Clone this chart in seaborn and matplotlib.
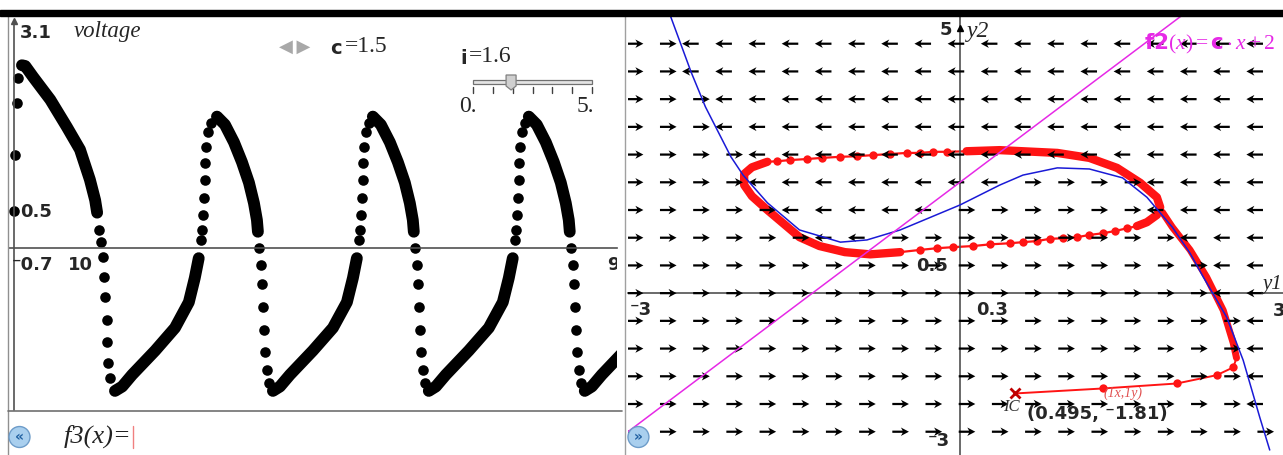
import numpy as np
import matplotlib
matplotlib.use("Agg")
import matplotlib.pyplot as plt
from matplotlib.patches import Rectangle, Polygon
import seaborn as sns

sns.set_style("white")
plt.rcParams['font.family'] = ['DejaVu Sans']
plt.rcParams['mathtext.fontset'] = 'custom'
plt.rcParams['mathtext.rm'] = 'Liberation Serif'
plt.rcParams['mathtext.it'] = 'Liberation Serif:italic'
plt.rcParams['mathtext.bf'] = 'DejaVu Sans:bold'

W, H = 1283, 455

# ---------------- values ----------------
c_value = 1.5
i_value = 1.6
i_min, i_max = 0, 5
xscl, yscl = 0.3, 0.5          # phase plane grid scales

# left graph : voltage (time, volt) - first pulse
start_t = [0.0, 0.15, 0.45, 0.61]
start_v = [0.50, 1.27, 1.98, 2.32]
first_fall_t = [1.2, 1.7, 2.9, 5.5, 8.0, 10.0, 11.5, 12.3, 12.6]
first_fall_v = [2.49, 2.48, 2.33, 2.02, 1.65, 1.34, 0.93, 0.65, 0.48]
first_drop_t = [12.9, 13.2, 13.5, 13.6, 13.8, 14.1, 14.1, 14.2, 14.5]
first_drop_v = [0.25, 0.08, -0.12, -0.40, -0.67, -0.98, -1.28, -1.57, -1.77]
first_rise_t = [15.3, 16.4, 17.9, 21.4, 24.4, 26.5, 27.4, 28.0]
first_rise_v = [-1.95, -1.89, -1.73, -1.40, -1.09, -0.74, -0.41, -0.14]
first_climb_t = [28.3, 28.5, 28.6, 28.8, 28.9, 28.9, 29.1, 29.4, 29.9]
first_climb_v = [0.11, 0.25, 0.45, 0.68, 0.93, 1.16, 1.38, 1.58, 1.70]

# one period (time after each peak), same for every later pulse
fall_dt = [0.0, 1.21, 2.58, 3.79, 4.85, 5.61, 6.06, 6.21]
fall_v = [1.79, 1.68, 1.44, 1.17, 0.89, 0.61, 0.38, 0.22]
drop_dt = [6.36, 6.67, 6.82, 6.97, 7.12, 7.27, 7.58, 7.88]
drop_v = [0.0, -0.23, -0.49, -0.80, -1.12, -1.42, -1.66, -1.84]
rise_dt = [8.48, 9.55, 11.06, 14.55, 17.58, 19.70, 20.61, 21.21]
rise_v = [-1.95, -1.89, -1.73, -1.40, -1.09, -0.74, -0.41, -0.14]
climb_dt = [21.52, 21.67, 21.82, 21.97, 22.12, 22.12, 22.27, 22.58, 23.03]
climb_v = [0.11, 0.25, 0.45, 0.68, 0.93, 1.16, 1.38, 1.58, 1.70]
peak_t = [30.76, 54.39, 78.03]

# right graph : phase plane (y1, y2)
blue_y1 = [-2.62, -2.43, -2.30, -2.07, -1.96, -1.74, -1.45, -1.08, -0.84, -0.54,
           0.0, 0.36, 0.57, 0.88, 1.17, 1.47, 1.69, 1.92, 2.08, 2.20, 2.41, 2.56, 2.71, 2.80]
blue_y2 = [5.02, 3.99, 3.36, 2.46, 2.13, 1.63, 1.14, 0.92, 0.96, 1.14,
           1.59, 1.95, 2.13, 2.26, 2.24, 2.08, 1.73, 1.19, 0.72, 0.29, -0.43, -1.21, -2.24, -2.83]
line_y1 = [-3.0, 2.0]           # f2(x)=c*x+2
line_y2 = [-2.5, 5.0]

cyc_right_y1 = [1.60, 1.69, 1.78, 1.81, 1.78, 1.63, 1.42, 1.17, 0.88, 0.57, 0.36, 0.06]
cyc_right_y2 = [1.21, 1.28, 1.41, 1.55, 1.73, 1.99, 2.26, 2.44, 2.53, 2.56, 2.58, 2.56]
cyc_top_y1 = [-0.12, -0.24, -0.36, -0.48, -0.63, -0.79, -0.93, -1.08, -1.25, -1.38, -1.54, -1.65]
cyc_top_y2 = [2.55, 2.55, 2.53, 2.53, 2.51, 2.49, 2.47, 2.46, 2.44, 2.42, 2.40, 2.38]
cyc_left_y1 = [-1.74, -1.88, -1.95, -1.95, -1.88, -1.74, -1.58, -1.45, -1.27, -1.04, -0.81, -0.54]
cyc_left_y2 = [2.37, 2.27, 2.15, 1.95, 1.75, 1.50, 1.23, 1.01, 0.85, 0.74, 0.70, 0.74]
cyc_bot_y1 = [-0.36, -0.21, -0.06, 0.12, 0.27, 0.45, 0.57, 0.70, 0.81, 0.93, 1.06, 1.17, 1.29, 1.40, 1.51]
cyc_bot_y2 = [0.78, 0.81, 0.83, 0.85, 0.88, 0.90, 0.92, 0.94, 0.98, 0.99, 1.01, 1.05, 1.08, 1.12, 1.17]

ic = (0.495, -1.81)
init_dot_y1 = [1.29, 1.96, 2.32, 2.47]
init_dot_y2 = [-1.72, -1.63, -1.48, -1.34]
init_band_y1 = [2.50, 2.47, 2.38, 2.23, 2.08, 1.92, 1.83]
init_band_y2 = [-1.17, -0.90, -0.31, 0.29, 0.78, 1.19, 1.46]

RED = '#ff1414'
BLUE = '#1a1ad6'
MAGENTA = '#e629e6'
AXC = '#505050'

fig = plt.figure(figsize=(W / 100, H / 100), dpi=100)
fig.patch.set_facecolor('white')


def fx(x):
    return x / W


def fy(y):
    return 1 - y / H


def ftext(x, y, s, **kw):
    kw.setdefault('va', 'center')
    return fig.text(fx(x), fy(y), s, **kw)


def fline(xs, ys, **kw):
    fig.add_artist(plt.Line2D([fx(v) for v in xs], [fy(v) for v in ys],
                              transform=fig.transFigure, **kw))


def band(ax, x, y, color, lw):
    sns.lineplot(x=x, y=y, ax=ax, sort=False, estimator=None, color=color, lw=lw,
                 solid_capstyle='round', solid_joinstyle='round', zorder=2)


def dots(ax, x, y, color, s):
    sns.scatterplot(x=x, y=y, ax=ax, color=color, s=s, linewidth=0, zorder=2)


def crossing_axes(ax):
    for side in ['top', 'right']:
        ax.spines[side].set_visible(False)
    for side in ['left', 'bottom']:
        ax.spines[side].set_position(('data', 0))
        ax.spines[side].set_color(AXC)
        ax.spines[side].set_linewidth(1.2)
    ax.tick_params(direction='inout', length=7, width=1, color=AXC,
                   labelbottom=False, labelleft=False)
    ax.set_facecolor('none')


# ---------------- left graph ----------------
ax_l = fig.add_axes([fx(9.4), fy(410), fx(617) - fx(9.4), fy(20.5) - fy(410)])
ax_l.set_xlim(-0.7, 91.4)
ax_l.set_ylim(-2.21, 3.1)
crossing_axes(ax_l)
ax_l.set_xticks(np.arange(10, 91, 10))
ax_l.set_yticks([v for v in np.arange(-2, 3.01, 0.5) if v != 0])

dots(ax_l, start_t, start_v, 'black', 58)
band(ax_l, first_fall_t, first_fall_v, 'black', 8.5)
dots(ax_l, first_drop_t, first_drop_v, 'black', 58)
band(ax_l, first_rise_t, first_rise_v, 'black', 8.5)
dots(ax_l, first_climb_t, first_climb_v, 'black', 58)
for p in peak_t:
    band(ax_l, [p + d for d in fall_dt], fall_v, 'black', 8.5)
    dots(ax_l, [p + d for d in drop_dt], drop_v, 'black', 58)
    band(ax_l, [p + d for d in rise_dt], rise_v, 'black', 8.5)
    dots(ax_l, [p + d for d in climb_dt], climb_v, 'black', 58)
ax_l.plot([0], [3.1], marker='^', color=AXC, ms=5, clip_on=False)
ax_l.text(89.9, -0.24, '99', fontsize=13, fontweight='bold', va='center', clip_on=True)

# ---------------- right graph ----------------
ax_r = fig.add_axes([fx(628), 0, fx(1283) - fx(628), fy(16)])
ax_r.set_xlim(-3, 2.92)
ax_r.set_ylim(-2.92, 5)
crossing_axes(ax_r)
ax_r.set_xticks([k * xscl for k in range(-9, 10) if k != 0])
ax_r.set_yticks([k * yscl for k in range(-5, 10) if k != 0])
ax_r.tick_params(length=6)

# direction field (left above the blue curve, right below it)
G1, G2 = np.meshgrid(np.arange(-10, 10) * xscl, np.arange(-5, 10) * yscl)
way = np.where(G2 > np.interp(G1, blue_y1, blue_y2), -1.0, 1.0)
ax_r.quiver(G1 + 0.014 + 0.05 * way, G2, 0.15 * way, 0 * way, angles='xy',
            scale_units='xy', scale=1, pivot='mid', color='black', width=0.0034,
            headwidth=3.8, headlength=3.6, headaxislength=2.8, zorder=3)

loop_y1 = cyc_right_y1 + cyc_top_y1 + cyc_left_y1 + cyc_bot_y1 + cyc_right_y1[:1]
loop_y2 = cyc_right_y2 + cyc_top_y2 + cyc_left_y2 + cyc_bot_y2 + cyc_right_y2[:1]
band(ax_r, loop_y1, loop_y2, RED, 1.6)
band(ax_r, cyc_right_y1, cyc_right_y2, RED, 6)
band(ax_r, cyc_left_y1, cyc_left_y2, RED, 6)
dots(ax_r, cyc_top_y1, cyc_top_y2, RED, 36)
dots(ax_r, cyc_bot_y1, cyc_bot_y2, RED, 36)
band(ax_r, [ic[0]] + init_dot_y1 + init_band_y1, [ic[1]] + init_dot_y2 + init_band_y2, RED, 1.4)
dots(ax_r, init_dot_y1, init_dot_y2, RED, 36)
band(ax_r, init_band_y1, init_band_y2, RED, 5)
ax_r.plot([ic[0]], [ic[1]], marker='x', color='#c00000', ms=7, mew=2, zorder=5)

sns.lineplot(x=blue_y1, y=blue_y2, ax=ax_r, sort=False, estimator=None,
             color=BLUE, lw=1.1, zorder=4)
sns.lineplot(x=line_y1, y=line_y2, ax=ax_r, sort=False, estimator=None,
             color=MAGENTA, lw=1.1, zorder=4)
ax_r.plot([0], [4.78], marker='^', color='black', ms=5, clip_on=False, zorder=5)

# ---------------- frame ----------------
fig.add_artist(Rectangle((0, fy(16)), 1, 6 / H, transform=fig.transFigure,
                         color='black', zorder=10))
fline([8, 8], [16, 455], color='#909090', lw=1)
fline([8, 622], [411, 411], color='#707070', lw=1.2)
fline([625, 625], [16, 455], color='#a0a0a0', lw=1)

# ---------------- texts, left ----------------
ftext(20, 33, '3.1', fontsize=13, fontweight='bold')
ftext(74, 32, 'voltage', fontsize=16.5, family='Liberation Serif', style='italic')
ftext(279, 47, '\u25c0\u2009\u25b6', fontsize=13, color='#a8a8a8')
ftext(330, 48, 'c', fontsize=14, fontweight='bold')
ftext(345, 47, '=%.1f' % c_value, fontsize=17, family='Liberation Serif')
ftext(460, 58, 'i', fontsize=14, fontweight='bold')
ftext(469, 57, '=%.1f' % i_value, fontsize=17, family='Liberation Serif')

# slider
fig.add_artist(Rectangle((fx(473), fy(84)), fx(592) - fx(473), 4 / H,
                         transform=fig.transFigure, fc='#e4e4e4', ec='#707070', lw=0.9))
for k in range(7):
    xt = 473 + k * (592 - 473) / 6
    fline([xt, xt], [87, 93], color='#404040', lw=1)
thumb = 473 + (i_value - i_min) / (i_max - i_min) * (592 - 473)
fig.add_artist(Polygon([(fx(thumb - 5), fy(75)), (fx(thumb + 5), fy(75)), (fx(thumb + 5), fy(86)),
                        (fx(thumb), fy(90)), (fx(thumb - 5), fy(86))], closed=True,
                       transform=fig.transFigure, fc='#cfcfcf', ec='#808080', lw=0.9, zorder=5))
ftext(459, 107, '%d.' % i_min, fontsize=17, family='Liberation Serif')
ftext(577, 107, '%d.' % i_max, fontsize=17, family='Liberation Serif')

ftext(20, 212, '0.5', fontsize=13, fontweight='bold')
ftext(12, 265, '\u207b0.7', fontsize=13, fontweight='bold')
ftext(68, 265, '10', fontsize=13, fontweight='bold')

ftext(15, 437, '\u00ab', fontsize=10, color='#1f5fa0', fontweight='bold',
      bbox=dict(boxstyle='circle,pad=0.25', fc='#a9cfee', ec='#6d9cc9', lw=1))
ftext(64, 436, 'f3(x)=', fontsize=19, family='Liberation Serif', style='italic', color='#222222')
fline([133, 133], [426, 448], color='#f08080', lw=1)

# ---------------- texts, right ----------------
ftext(940, 30, '5', fontsize=13, fontweight='bold')
ftext(967, 31, 'y2', fontsize=17, family='Liberation Serif', style='italic')
ftext(1144, 44, r'$\mathbf{f2}(x)=\mathbf{c}\cdot x+2$', fontsize=15.5, color=MAGENTA)
ftext(916, 266, '0.5', fontsize=13, fontweight='bold')
ftext(630, 310, '\u207b3', fontsize=13, fontweight='bold')
ftext(976, 310, '0.3', fontsize=13, fontweight='bold')
ftext(1273, 311, '3', fontsize=13, fontweight='bold')
ftext(1263, 284, 'y1', fontsize=15, family='Liberation Serif', style='italic')
ftext(928, 441, '\u207b3', fontsize=13, fontweight='bold')
ftext(1104, 393, '(1x,1y)', fontsize=10, family='Liberation Serif', style='italic', color='#e05050')
ftext(1003, 407, 'IC', fontsize=12, family='Liberation Serif', style='italic', color='#333333')
ftext(1027, 414, '(0.495, \u207b1.81)', fontsize=13, fontweight='bold')
ftext(634, 437, '\u00bb', fontsize=10, color='#1f5fa0', fontweight='bold',
      bbox=dict(boxstyle='circle,pad=0.25', fc='#a9cfee', ec='#6d9cc9', lw=1))

fig.savefig('out.png', dpi=100, facecolor='white')
